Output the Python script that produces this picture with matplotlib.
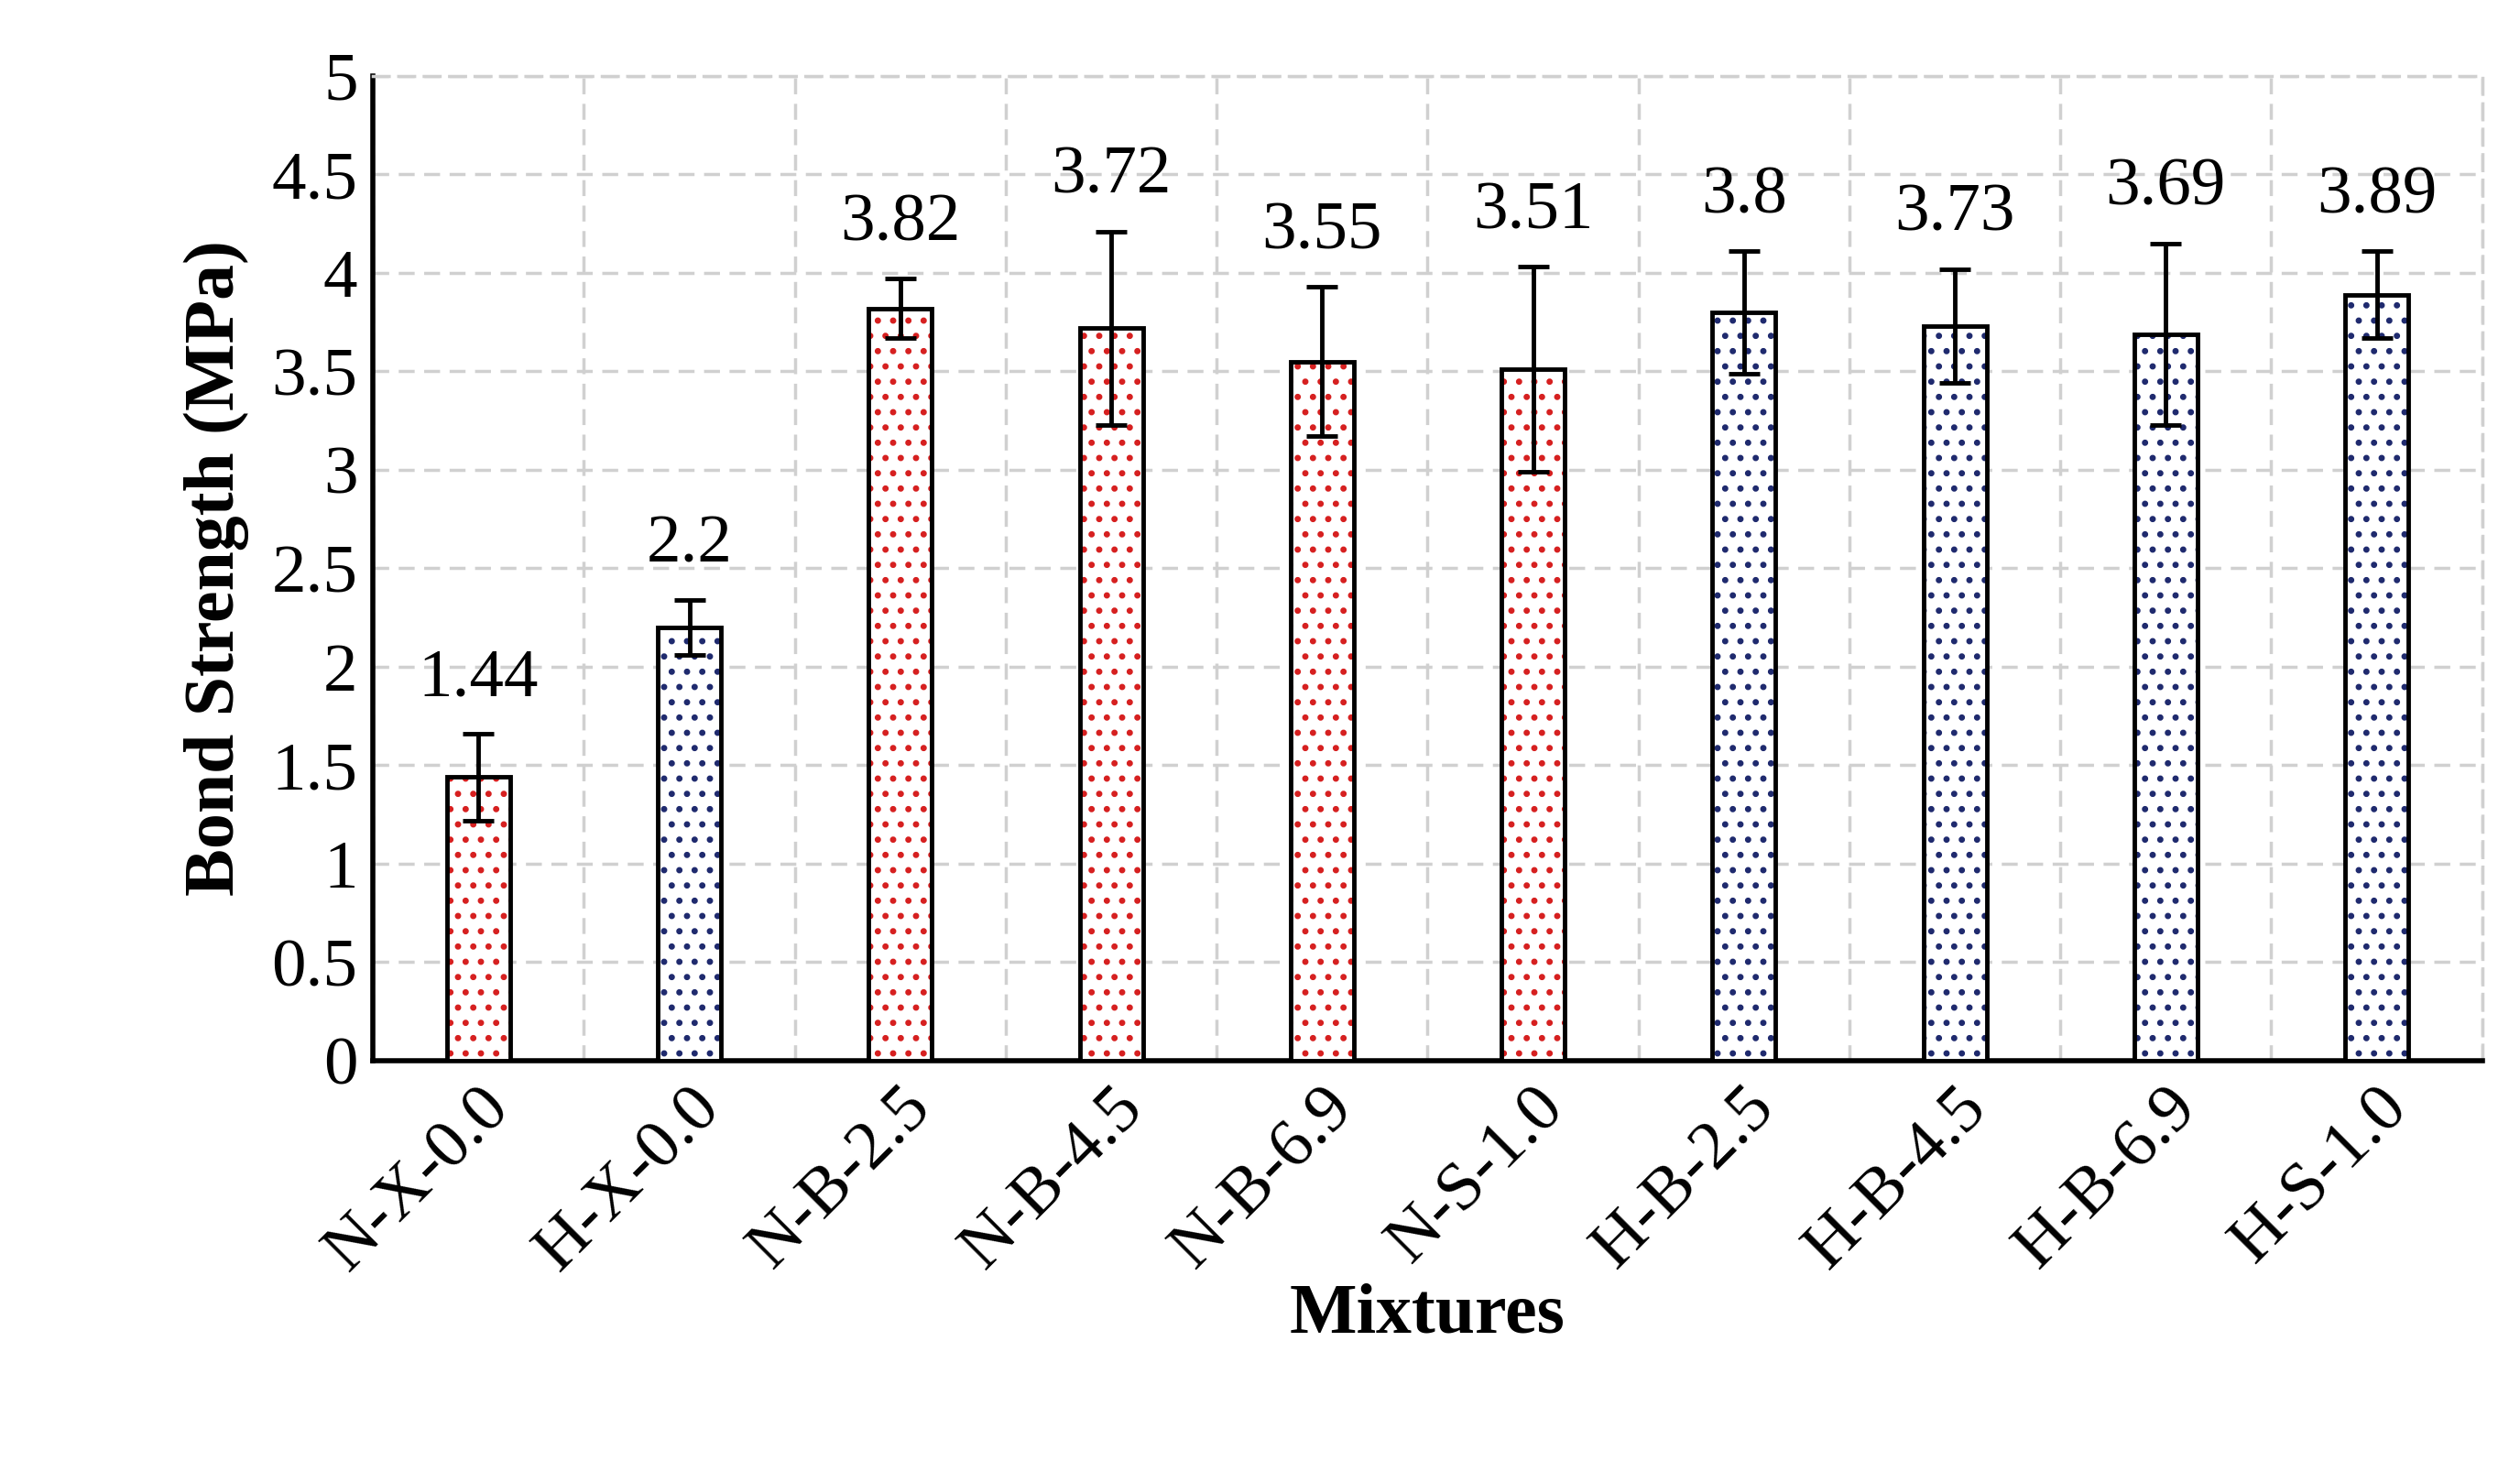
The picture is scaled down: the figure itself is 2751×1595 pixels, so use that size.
import matplotlib
matplotlib.use("Agg")
import matplotlib.pyplot as plt
import numpy as np

categories = ["N-X-0.0","H-X-0.0","N-B-2.5","N-B-4.5","N-B-6.9","N-S-1.0","H-B-2.5","H-B-4.5","H-B-6.9","H-S-1.0"]
values = [1.44, 2.2, 3.82, 3.72, 3.55, 3.51, 3.8, 3.73, 3.69, 3.89]
errors = [0.22, 0.14, 0.15, 0.49, 0.38, 0.52, 0.31, 0.29, 0.46, 0.22]
groups = ["N","H","N","N","N","N","H","H","H","H"]
colors = {"N": "#d62020", "H": "#1f2a6e"}

plt.rcParams['font.family'] = ['Liberation Serif', 'DejaVu Serif']
plt.rcParams['hatch.linewidth'] = 2.5

fig = plt.figure(figsize=(27.51, 15.95), dpi=100)
ax = fig.add_axes([0.148, 0.274, 0.837, 0.674])
x = np.arange(len(categories))
for xi, v, g in zip(x, values, groups):
    ax.bar(xi, v, width=0.3, color="white", edgecolor=colors[g], hatch=".", linewidth=0, zorder=3)
    ax.bar(xi, v, width=0.3, color="none", edgecolor="black", linewidth=3.5, zorder=4)
ax.errorbar(x, values, yerr=errors, fmt="none", ecolor="black", elinewidth=3.5, capsize=12, capthick=3.5, zorder=5)
for xi, v, e in zip(x, values, errors):
    ax.text(xi, v + e + 0.12, f"{v:g}", ha="center", va="bottom", fontsize=54)

ax.set_xlim(-0.5, len(categories) - 0.5)
ax.set_ylim(0, 5)
ax.set_yticks(np.arange(0, 5.01, 0.5))
ax.set_yticklabels([f"{t:g}" for t in np.arange(0, 5.01, 0.5)], fontsize=54)
ax.set_xticks(x)
ax.set_xticklabels(categories, rotation=45, ha="right", rotation_mode="anchor", fontsize=54)
ax.set_xticks(np.arange(-0.5, len(categories), 1), minor=True)
ax.tick_params(axis="both", which="both", length=0, pad=12)
ax.grid(which="minor", axis="x", color="#d0d0d0", linestyle=(0, (5, 3)), linewidth=2.5, zorder=0)
ax.grid(which="major", axis="y", color="#d0d0d0", linestyle=(0, (5, 3)), linewidth=2.5, zorder=0)
for s in ["top", "right"]:
    ax.spines[s].set_color("#d0d0d0")
    ax.spines[s].set_linestyle((0, (5, 3)))
    ax.spines[s].set_linewidth(2.5)
for s in ["left", "bottom"]:
    ax.spines[s].set_linewidth(4)
ax.set_ylabel("Bond Strength (MPa)", fontsize=56, fontweight="bold", labelpad=18)
ax.set_xlabel("Mixtures", fontsize=56, fontweight="bold", labelpad=0)
fig.savefig("out.png", dpi=100)
